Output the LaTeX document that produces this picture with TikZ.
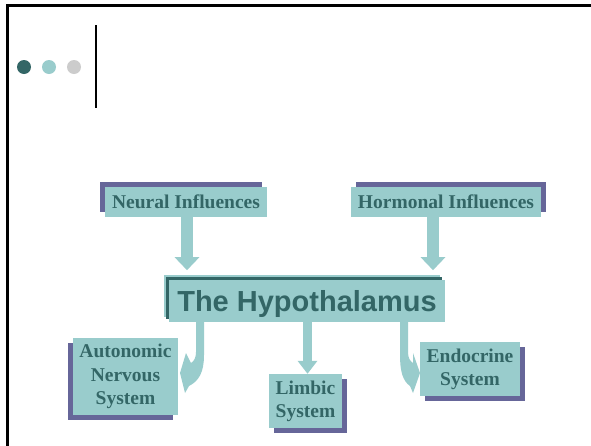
\documentclass[tikz,border=0pt]{standalone}
\usepackage{fontspec}
\setmainfont{Liberation Serif}
\newfontfamily\titlefont{Liberation Sans}
\usetikzlibrary{arrows.meta,shadows}
\definecolor{boxc}{HTML}{99CCCC}
\definecolor{txtc}{HTML}{336666}
\definecolor{shc}{HTML}{666699}
\definecolor{dotgray}{HTML}{CCCCCC}
\begin{document}
\begin{tikzpicture}[x=1pt,y=-1pt,
  infobox/.style={fill=boxc, text=txtc, inner sep=0pt, align=center,
    font=\bfseries\fontsize{19.5}{24}\selectfont},
  shUL/.style={drop shadow={shadow xshift=-5pt, shadow yshift=5pt, fill=shc, opacity=1}},
  shUR/.style={drop shadow={shadow xshift=5pt, shadow yshift=5pt, fill=shc, opacity=1}},
  shDL/.style={drop shadow={shadow xshift=-5pt, shadow yshift=-5pt, fill=shc, opacity=1}},
  shDR/.style={drop shadow={shadow xshift=5pt, shadow yshift=-5pt, fill=shc, opacity=1}},
  blockarrow/.style={draw=boxc, line width=12pt, -{Triangle[width=24pt,length=13pt,fill=boxc]}},
  smallarrow/.style={draw=boxc, line width=9pt, -{Triangle[width=19pt,length=13pt,fill=boxc]}},
  curvearrow/.style={fill=boxc, draw=none}
]
\useasboundingbox (0,0) rectangle (591,445);
\fill[white] (0,0) rectangle (591,445);
% frame
\draw[line width=2.5pt] (7.5,450) -- (7.5,5.5) -- (600,5.5);
% dots and bar
\fill[txtc] (24,67) circle[radius=7pt];
\fill[boxc] (49,67) circle[radius=7pt];
\fill[dotgray] (74,67) circle[radius=7pt];
\draw[line width=2pt] (95.5,25) -- (95.5,108);

% nodes
\node[infobox, shUL, minimum width=162pt, minimum height=30pt] (neural) at (186,202) {Neural Influences};
\node[infobox, shUR, minimum width=190pt, minimum height=30pt] (hormonal) at (446,202) {Hormonal Influences};
\node[fill=boxc, text=txtc, inner sep=0pt, minimum width=276pt, minimum height=42pt,
  text height=21pt, text depth=0pt,
  general shadow={shadow xshift=-5pt, shadow yshift=5pt, fill=boxc},
  general shadow={shadow xshift=-3pt, shadow yshift=3pt, fill=txtc},
  font=\titlefont\bfseries\fontsize{29}{34}\selectfont] (hyp) at (307,301) {The Hypothalamus};
\node[infobox, shDL, minimum width=105pt, minimum height=77pt] (auto) at (125.5,376.5) {\raisebox{-2pt}{\begin{tabular}{@{}c@{}}Autonomic\\[-0.4pt]Nervous\\[-0.4pt]System\end{tabular}}};
\node[infobox, shDR, minimum width=73pt, minimum height=54pt] (limbic) at (305.5,401) {\raisebox{-1pt}{\begin{tabular}{@{}c@{}}Limbic\\[-0.4pt]System\end{tabular}}};
\node[infobox, shDR, minimum width=100pt, minimum height=54pt] (endo) at (470,369) {\raisebox{-1pt}{\begin{tabular}{@{}c@{}}Endocrine\\[-0.4pt]System\end{tabular}}};

% straight arrows
\draw[blockarrow] ([xshift=1pt]neural.south) -- ++(0,53);
\draw[blockarrow] ([xshift=-13pt]hormonal.south) -- ++(0,53);
\draw[smallarrow] ([xshift=0.5pt]hyp.south) -- ([xshift=2pt]limbic.north);

% curved arrows
\fill[curvearrow] (196,322) -- (196,352) .. controls (196,358) and (194,361) .. (191,363)
  -- (186,353) -- (180,373) -- (185,393) -- (189,386)
  .. controls (199,381) and (204,372) .. (204,355) -- (204,322) -- cycle;
\fill[curvearrow] (408,322) -- (408,352) .. controls (408,358) and (410,361) .. (413,363)
  -- (413,353) -- (420,373) -- (413,393) -- (410,386)
  .. controls (403,381) and (400,372) .. (400,355) -- (400,322) -- cycle;
\end{tikzpicture}
\end{document}
